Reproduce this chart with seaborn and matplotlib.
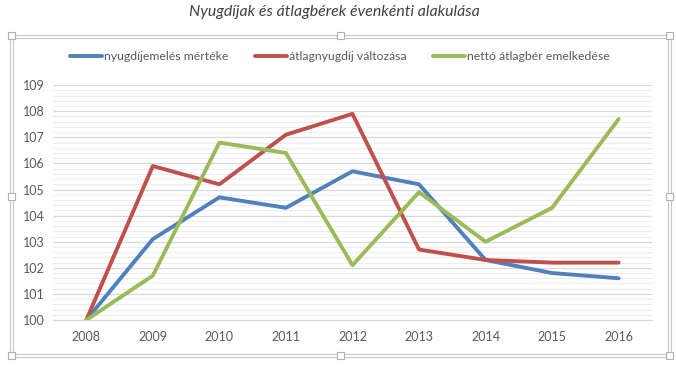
import matplotlib
matplotlib.use("Agg")
import matplotlib.pyplot as plt
import numpy as np
import pandas as pd
import seaborn as sns
from matplotlib.patches import Rectangle
from matplotlib.ticker import MultipleLocator

years = ["2008", "2009", "2010", "2011", "2012", "2013", "2014", "2015", "2016"]
nyugdijemeles = [100, 103.1, 104.7, 104.3, 105.7, 105.2, 102.3, 101.8, 101.6]
atlagnyugdij = [100, 105.9, 105.2, 107.1, 107.9, 102.7, 102.3, 102.2, 102.2]
netto_atlagber = [100, 101.7, 106.8, 106.4, 102.1, 104.9, 103.0, 104.3, 107.7]

series_names = ["nyugdíjemelés mértéke", "átlagnyugdíj változása", "nettó átlagbér emelkedése"]
colors = ["#4F81BD", "#C0504D", "#9BBB59"]

df = pd.DataFrame({
    "year": years * 3,
    "value": nyugdijemeles + atlagnyugdij + netto_atlagber,
    "series": np.repeat(series_names, len(years)),
})
df["pos"] = df["year"].map({y: i for i, y in enumerate(years)})

sns.set_style("white")
plt.rcParams["font.family"] = ["Lato", "DejaVu Sans"]

fig = plt.figure(figsize=(6.76, 3.67), dpi=100)
ax = fig.add_axes([0.0784, 0.128, 0.886, 0.640])

sns.lineplot(data=df, x="pos", y="value", hue="series", palette=colors,
             linewidth=2.8, ax=ax, legend=False, solid_capstyle="round")

ax.set_xlim(-0.5, len(years) - 0.5)
ax.set_ylim(100, 109)
ax.set_xticks(range(len(years)))
ax.set_xticklabels(years)
ax.yaxis.set_major_locator(MultipleLocator(1))
ax.yaxis.set_minor_locator(MultipleLocator(0.2))
ax.grid(which="major", axis="y", color="#D9D9D9", linewidth=0.9)
ax.grid(which="minor", axis="y", color="#EDEDED", linewidth=0.8)
ax.set_axisbelow(True)
for side in ["left", "right", "top"]:
    ax.spines[side].set_visible(False)
ax.spines["bottom"].set_color("#D9D9D9")
ax.tick_params(axis="both", which="both", length=0, labelsize=9, colors="#595959", pad=8)
ax.tick_params(axis="y", pad=6)
ax.set_xlabel("")
ax.set_ylabel("")

handles = [plt.Line2D([], [], color=c, linewidth=2.8, solid_capstyle="round") for c in colors]
fig.legend(handles, series_names, loc="center", bbox_to_anchor=(0.503, 0.845), ncol=3,
           frameon=False, fontsize=8.8, handlelength=2.6, handletextpad=0.15,
           columnspacing=2.2, labelcolor="#595959")

fig.text(0.495, 0.967, "Nyugdíjak és átlagbérek évenkénti alakulása", ha="center", va="center",
         fontsize=11.4, style="italic", color="#404040")

# chart selection frame with handles
W, H = 676, 367
for off in (0, 3):
    fig.patches.append(Rectangle(((10 + off) / W, 1 - (357 - off) / H),
                                 (661 - 2 * off) / W, (322 - 2 * off) / H,
                                 transform=fig.transFigure, fill=False,
                                 edgecolor="#C8C8C8", linewidth=0.8))
for hx, hy in [(11.5, 35.5), (340, 35.5), (669.5, 35.5), (11.5, 196), (669.5, 196),
               (11.5, 355.5), (340, 355.5), (669.5, 355.5)]:
    fig.patches.append(Rectangle(((hx - 3.5) / W, 1 - (hy + 3.5) / H), 7 / W, 7 / H,
                                 transform=fig.transFigure, facecolor="white",
                                 edgecolor="#B0B0B0", linewidth=0.8))

fig.savefig("out.png", dpi=100)
